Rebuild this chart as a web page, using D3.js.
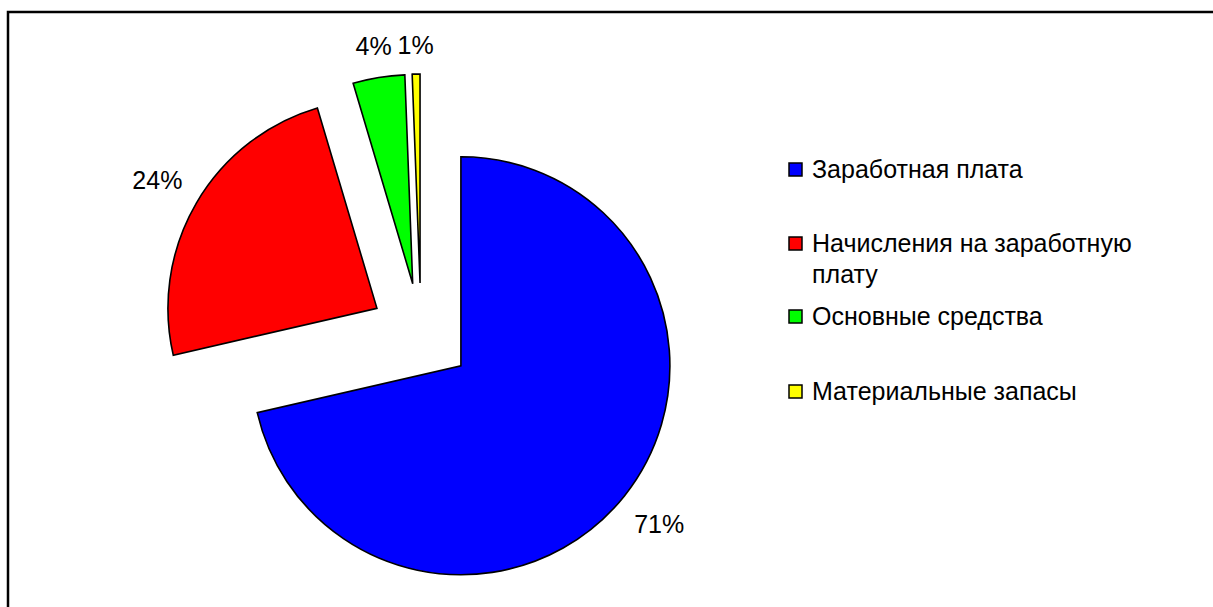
<!DOCTYPE html>
<html>
<head>
<meta charset="utf-8">
<script src="https://cdn.jsdelivr.net/npm/d3@7/dist/d3.min.js"></script>
<style>
  html, body { margin: 0; padding: 0; background: #fff; }
  svg { display: block; }
  text { font-family: "Liberation Sans", Arial, sans-serif; fill: #000; }
</style>
</head>
<body>
<svg id="chart" width="1213" height="607"></svg>
<script>
// ---- data ----
const categories = ["Заработная плата", "Начисления на заработную плату", "Основные средства", "Материальные запасы"];
const legendLines = [["Заработная плата"], ["Начисления на заработную", "плату"], ["Основные средства"], ["Материальные запасы"]];
const values = [71.4, 24.0, 4.0, 0.6];
const colors = ["#0000FF", "#FF0000", "#00FF00", "#FFFF00"];

// ---- layout ----
const W = 1213, H = 607;
const cx = 421, cy = 334, R = 209, explode = 51;
const fontSize = 25;

const svg = d3.select("#chart");

// outer frame (extends beyond the right/bottom edge)
svg.append("rect")
  .attr("x", 8).attr("y", 12)
  .attr("width", W + 50).attr("height", H + 50)
  .attr("fill", "none").attr("stroke", "#000").attr("stroke-width", 2.5);

const total = d3.sum(values);
const pie = d3.pie().sort(null).value(d => d)(values);
const arc = d3.arc().innerRadius(0).outerRadius(R);

const g = svg.append("g").attr("transform", `translate(${cx},${cy})`);

pie.forEach((d, i) => {
  const mid = (d.startAngle + d.endAngle) / 2;
  const dx = Math.sin(mid), dy = -Math.cos(mid);
  const ox = dx * explode, oy = dy * explode;
  g.append("path")
    .attr("d", arc(d))
    .attr("transform", `translate(${ox},${oy})`)
    .attr("fill", colors[i])
    .attr("stroke", "#000")
    .attr("stroke-width", 1.6)
    .attr("stroke-linejoin", "miter");

  const label = Math.round(d.value / total * 100) + "%";
  const t = g.append("text")
    .attr("font-size", fontSize)
    .attr("text-anchor", "middle")
    .attr("dominant-baseline", "central")
    .text(label);
  const w = t.node().getComputedTextLength();
  const h = 22;
  const dist = R + 18 + Math.abs(dx) * w / 2 + Math.abs(dy) * h / 2;
  t.attr("x", ox + dx * dist).attr("y", oy + dy * dist);
});

// ---- legend ----
const lgX = 789, lgY = [163, 237, 310, 385];
const lineH = 31;
const legend = svg.append("g");
categories.forEach((c, i) => {
  legend.append("rect")
    .attr("x", lgX).attr("y", lgY[i])
    .attr("width", 13).attr("height", 13)
    .attr("fill", colors[i]).attr("stroke", "#000").attr("stroke-width", 1.5);
  const t = legend.append("text")
    .attr("x", lgX + 23).attr("y", lgY[i] + 15)
    .attr("font-size", fontSize);
  legendLines[i].forEach((ln, j) => {
    t.append("tspan").attr("x", lgX + 23).attr("dy", j === 0 ? 0 : lineH).text(ln);
  });
});
</script>
</body>
</html>
